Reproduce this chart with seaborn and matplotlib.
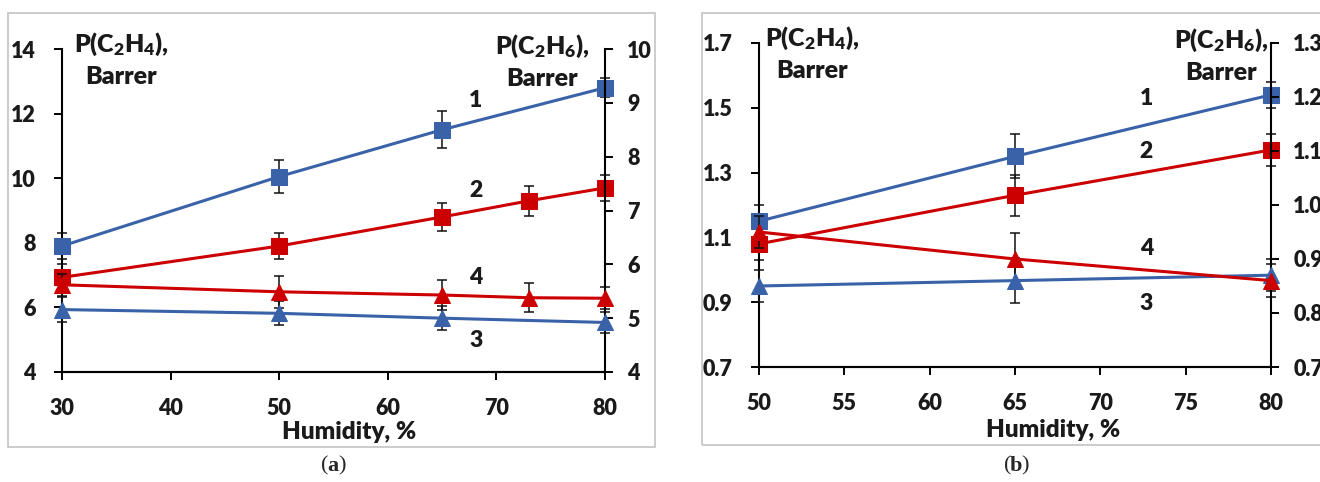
import numpy as np
import pandas as pd
import matplotlib
matplotlib.use("Agg")
import matplotlib.pyplot as plt
import seaborn as sns
from matplotlib.patches import Rectangle

# panel (a) data
hum_a_1 = [30, 50, 65, 80]
p_a_1 = [7.9, 10.05, 11.5, 12.8]
e_a_1 = [0.4, 0.5, 0.57, 0.3]
hum_a_2 = [30, 50, 65, 73, 80]
p_a_2 = [6.93, 7.9, 8.8, 9.3, 9.7]
e_a_2 = [0.4, 0.4, 0.44, 0.46, 0.4]
hum_a_3 = [30, 50, 65, 80]
p_a_3 = [5.16, 5.09, 5.0, 4.92]
e_a_3 = [0.24, 0.22, 0.22, 0.2]
hum_a_4 = [30, 50, 65, 73, 80]
p_a_4 = [5.62, 5.49, 5.43, 5.38, 5.37]
e_a_4 = [0.2, 0.3, 0.28, 0.27, 0.2]

# panel (b) data
hum_b = [50, 65, 80]
p_b_1 = [1.15, 1.35, 1.54]
e_b_1 = [0.05, 0.068, 0.04]
p_b_2 = [1.08, 1.23, 1.37]
e_b_2 = [0.05, 0.063, 0.05]
p_b_3 = [0.85, 0.86, 0.87]
e_b_3 = [0.03, 0.041, 0.03]
p_b_4 = [0.95, 0.90, 0.86]
e_b_4 = [0.03, 0.048, 0.03]

blue = '#3a62a8'
red = '#cc0000'

sns.set_theme(style='ticks')
plt.rcParams['font.family'] = ['Lato', 'DejaVu Sans']
plt.rcParams['font.weight'] = 800
plt.rcParams['mathtext.default'] = 'regular'

FS = 15.5      # tick labels and curve numbers
FT = 18        # P(...) titles
FH = 17.5      # Humidity label
WT = 800
INK = '#1a1a1a'
W, H = 1320, 482
fig = plt.figure(figsize=(W / 100, H / 100), dpi=100)


def fx(x):
    return x / W


def fy(y):
    return 1 - y / H


def series(ax, x, y, err, color, marker):
    ax.errorbar(x, y, yerr=err, fmt='none', ecolor='#111111', elinewidth=1.1,
                capsize=3.5, capthick=1.1, zorder=2, clip_on=False)
    df = pd.DataFrame({'x': x, 'y': y})
    sns.lineplot(data=df, x='x', y='y', ax=ax, color=color, marker=marker,
                 markersize=11, markeredgecolor=color, linewidth=2.2,
                 zorder=3, clip_on=False, sort=False)


def style(ax, ax2):
    for a in (ax, ax2):
        a.set_xlabel('')
        a.set_ylabel('')
        a.spines['top'].set_visible(False)
        for s in a.spines.values():
            s.set_color('black')
            s.set_linewidth(1.5)
        a.tick_params(direction='out', length=6, width=1.4, colors='black',
                      labelsize=FS, pad=10)
        a.patch.set_visible(False)
    ax.spines['right'].set_visible(False)
    ax2.spines['left'].set_visible(False)
    ax.tick_params(axis='x', pad=13)
    ax.tick_params(axis='y', pad=13)
    for t in ax.get_xticklabels() + ax.get_yticklabels() + ax2.get_yticklabels():
        t.set_fontweight(WT)
        t.set_color(INK)


# frames around panels
fig.patches.append(Rectangle((fx(8), fy(447)), fx(655 - 8), (447 - 13) / H,
                             transform=fig.transFigure, fill=False,
                             edgecolor='#c4c4c4', lw=1.2))
fig.patches.append(Rectangle((fx(702), fy(445)), fx(1340 - 702), (445 - 13) / H,
                             transform=fig.transFigure, fill=False,
                             edgecolor='#c4c4c4', lw=1.2))

# ---- panel (a)
ax = fig.add_axes([fx(62), fy(372), fx(605 - 62), (372 - 49) / H])
ax2 = ax.twinx()
series(ax, hum_a_1, p_a_1, e_a_1, blue, 's')
series(ax, hum_a_2, p_a_2, e_a_2, red, 's')
series(ax2, hum_a_3, p_a_3, e_a_3, blue, '^')
series(ax2, hum_a_4, p_a_4, e_a_4, red, '^')
ax.set_xlim(30, 80)
ax.set_ylim(4, 14)
ax2.set_ylim(4, 10)
ax.set_xticks([30, 40, 50, 60, 70, 80])
ax.set_yticks([4, 6, 8, 10, 12, 14])
ax2.set_yticks([4, 5, 6, 7, 8, 9, 10])
style(ax, ax2)
for lab, yy in zip(['1', '2', '4', '3'], [12.42, 9.63, 6.94, 4.99]):
    ax.text(68.1, yy, lab, ha='center', va='center', fontsize=FS + 1,
            fontweight=WT, color=INK)

# ---- panel (b)
bx = fig.add_axes([fx(759), fy(367), fx(1271 - 759), (367 - 43) / H])
bx2 = bx.twinx()
series(bx, hum_b, p_b_1, e_b_1, blue, 's')
series(bx, hum_b, p_b_2, e_b_2, red, 's')
series(bx2, hum_b, p_b_3, e_b_3, blue, '^')
series(bx2, hum_b, p_b_4, e_b_4, red, '^')
bx.set_xlim(50, 80)
bx.set_ylim(0.7, 1.7)
bx2.set_ylim(0.7, 1.3)
bx.set_xticks([50, 55, 60, 65, 70, 75, 80])
bx.set_yticks([0.7, 0.9, 1.1, 1.3, 1.5, 1.7])
bx2.set_yticks([0.7, 0.8, 0.9, 1.0, 1.1, 1.2, 1.3])
bx.yaxis.set_major_formatter(matplotlib.ticker.FormatStrFormatter('%.1f'))
bx2.yaxis.set_major_formatter(matplotlib.ticker.FormatStrFormatter('%.1f'))
style(bx, bx2)
for lab, yy in zip(['1', '2', '4', '3'], [1.53, 1.364, 1.067, 0.897]):
    bx.text(72.7, yy, lab, ha='center', va='center', fontsize=FS + 1,
            fontweight=WT, color=INK)

# axis titles
lab4 = 'P(C$_2$H$_4$),\nBarrer'
lab6 = 'P(C$_2$H$_6$),\nBarrer'
kw = dict(ha='center', va='top', fontsize=FT, fontweight=WT, color=INK,
          multialignment='center', linespacing=1.45)
fig.text(fx(121), fy(31), lab4, **kw)
fig.text(fx(542), fy(33), lab6, **kw)
fig.text(fx(812), fy(25), lab4, **kw)
fig.text(fx(1221), fy(27), lab6, **kw)
fig.text(fx(349), fy(432), 'Humidity, %', ha='center', va='center',
         fontsize=FH, fontweight=WT, color=INK)
fig.text(fx(1053), fy(430), 'Humidity, %', ha='center', va='center',
         fontsize=FH, fontweight=WT, color=INK)

# captions (a), (b)
serif = ['Liberation Serif', 'DejaVu Serif']
for cx, letter in [(333, 'a'), (1016, 'b')]:
    fig.text(fx(cx), fy(466), letter, ha='center', va='center',
             fontsize=16, fontweight='bold', family=serif)
    fig.text(fx(cx - 5), fy(466), '(', ha='right', va='center',
             fontsize=16, fontweight='normal', family=serif)
    fig.text(fx(cx + 5), fy(466), ')', ha='left', va='center',
             fontsize=16, fontweight='normal', family=serif)

fig.savefig('out.png', dpi=100, facecolor='white')
